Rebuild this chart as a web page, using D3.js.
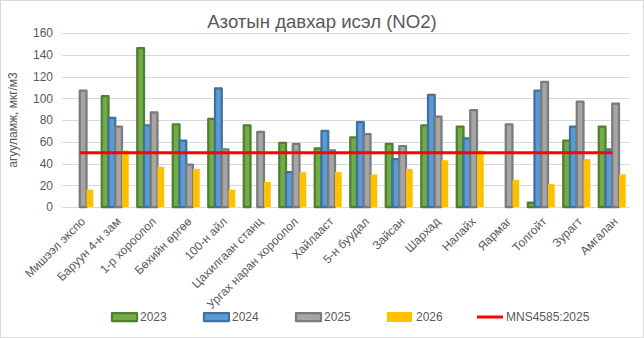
<!DOCTYPE html>
<html>
<head>
<meta charset="utf-8">
<script src="https://cdn.jsdelivr.net/npm/d3@7/dist/d3.min.js"></script>
<style>
  html, body { margin: 0; padding: 0; background: #fff; }
  svg { display: block; font-family: "Liberation Sans", Arial, sans-serif; }
</style>
</head>
<body>
<svg id="chart" width="644" height="338"></svg>
<script>
const categories = ["Мишээл экспо", "Баруун 4-н зам", "1-р хороолол", "Бөхийн өргөө", "100-н айл",
  "Цахилгаан станц", "Ургах наран хороолол", "Хайлааст", "5-н буудал", "Зайсан", "Шархад",
  "Налайх", "Яармаг", "Толгойт", "Зурагт", "Амгалан"];
const seriesNames = ["2023", "2024", "2025", "2026"];
const values2023 = [null, 102, 146, 76, 81, 75, 59, 54, 64, 58, 75, 74, null, 4, 61, 74];
const values2024 = [null, 82, 75, 61, 109, null, 32, 70, 78, 44, 103, 63, null, 107, 74, 53];
const values2025 = [107, 74, 87, 39, 53, 69, 58, 52, 67, 56, 83, 89, 76, 115, 97, 95];
const values2026 = [16, 52, 37, 35, 16, 23, 32, 32, 30, 35, 43, 52, 25, 21, 44, 30];
const limitName = "MNS4585:2025";
const limitValue = 50;
const yTicks = [0, 20, 40, 60, 80, 100, 120, 140, 160];
const titleText = "Азотын давхар исэл (NO2)";
const yAxisTitle = "агууламж, мкг/м3";

const seriesValues = [values2023, values2024, values2025, values2026];
const fills = ["#70AD47", "#5B9BD5", "#A5A5A5", "#FFC000"];
const strokes = ["#507E32", "#41719C", "#7B7B7B", null];
const textColor = "#595959";

const svg = d3.select("#chart");
const W = 644, H = 338;
const plot = { left: 62, right: 630, top: 33, bottom: 207 };

svg.append("rect").attr("x", 0.5).attr("y", 0.5).attr("width", W - 1).attr("height", H - 1)
  .attr("fill", "#fff").attr("stroke", "#D9D9D9");

const x = d3.scaleBand().domain(categories).range([plot.left, plot.right])
  .paddingInner(0.24).paddingOuter(0.12);
const xs = d3.scaleBand().domain(seriesNames).range([0, x.bandwidth()]);
const y = d3.scaleLinear().domain([0, 160]).range([plot.bottom, plot.top]);

// gridlines
svg.append("g").selectAll("line").data(yTicks).join("line")
  .attr("x1", plot.left).attr("x2", plot.right)
  .attr("y1", d => Math.round(y(d)) + 0.5).attr("y2", d => Math.round(y(d)) + 0.5)
  .attr("stroke", "#D9D9D9").attr("stroke-width", 1);

// y axis labels
const yAxis = d3.axisLeft(y).tickValues(yTicks).tickSize(0).tickPadding(0);
const gy = svg.append("g").attr("transform", `translate(${plot.left - 9},0)`).call(yAxis);
gy.select(".domain").remove();
gy.selectAll("text").attr("fill", textColor).style("font-size", "12px")
  .style("font-family", "'Liberation Sans', Arial, sans-serif");

// title
svg.append("text").attr("x", 322).attr("y", 28).attr("text-anchor", "middle")
  .attr("fill", textColor).style("font-size", "18.6px").text(titleText);

// y axis title
svg.append("text").attr("transform", `translate(17,${(plot.top + plot.bottom) / 2}) rotate(-90)`)
  .attr("text-anchor", "middle").attr("fill", textColor).style("font-size", "12px").text(yAxisTitle);

// bars
seriesNames.forEach((s, i) => {
  const g = svg.append("g");
  const data = categories.map((c, j) => ({ c, v: seriesValues[i][j] })).filter(d => d.v != null);
  g.selectAll("rect").data(data).join("rect")
    .attr("x", d => x(d.c) + xs(s))
    .attr("y", d => y(d.v))
    .attr("width", xs.bandwidth())
    .attr("height", d => y(0) - y(d.v))
    .attr("fill", fills[i])
    .attr("stroke", strokes[i] || "none")
    .attr("stroke-width", strokes[i] ? 2.25 : 0)
    .attr("stroke-linejoin", "round");
});

// limit line
const line = d3.line().x(d => x(d) + x.bandwidth() / 2).y(() => y(limitValue));
svg.append("path").datum(categories).attr("d", line)
  .attr("fill", "none").attr("stroke", "#FF0000").attr("stroke-width", 3);

// x category labels
const gx = svg.append("g").attr("transform", `translate(0,${plot.bottom})`)
  .call(d3.axisBottom(x).tickSize(0).tickPadding(0));
gx.select(".domain").remove();
gx.selectAll("text")
  .attr("fill", textColor).style("font-size", "12px")
  .style("font-family", "'Liberation Sans', Arial, sans-serif")
  .attr("text-anchor", "end")
  .attr("dy", null).attr("y", null)
  .attr("transform", "translate(0,9) rotate(-45)")
  .attr("dominant-baseline", "hanging");

// legend
const legendItems = [
  { name: "2023", type: "bar", i: 0, x: 111 },
  { name: "2024", type: "bar", i: 1, x: 203 },
  { name: "2025", type: "bar", i: 2, x: 295 },
  { name: "2026", type: "bar", i: 3, x: 387 },
  { name: limitName, type: "line", x: 477 }
];
const lg = svg.append("g");
const ly = 317;
legendItems.forEach(it => {
  if (it.type === "bar") {
    if (strokes[it.i]) {
      lg.append("rect").attr("x", it.x + 1).attr("y", ly - 4).attr("width", 25).attr("height", 8)
        .attr("fill", fills[it.i]).attr("stroke", strokes[it.i]).attr("stroke-width", 2.25)
        .attr("stroke-linejoin", "round");
    } else {
      lg.append("rect").attr("x", it.x).attr("y", ly - 5).attr("width", 25).attr("height", 10)
        .attr("fill", fills[it.i]);
    }
  } else {
    lg.append("line").attr("x1", it.x).attr("x2", it.x + 26).attr("y1", ly).attr("y2", ly)
      .attr("stroke", "#FF0000").attr("stroke-width", 3);
  }
  lg.append("text").attr("x", it.x + 29).attr("y", ly + 4).attr("fill", textColor)
    .style("font-size", "12px").text(it.name);
});
</script>
</body>
</html>
